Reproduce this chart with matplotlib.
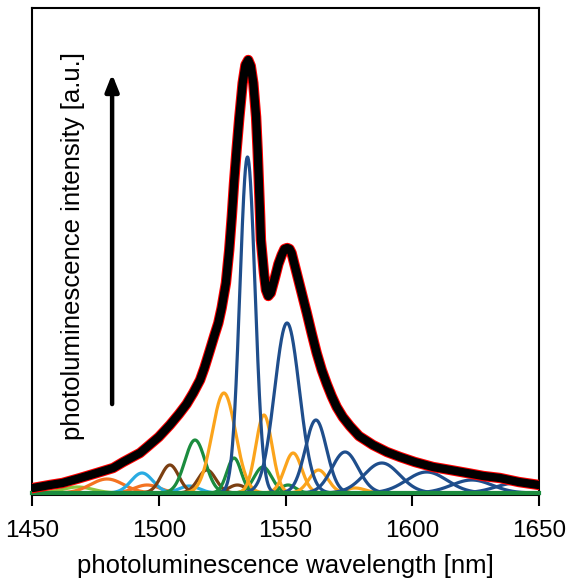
import numpy as np
import matplotlib
matplotlib.use("Agg")
import matplotlib.pyplot as plt

plt.rcParams['font.family'] = ['Liberation Sans', 'DejaVu Sans']

# measured spectrum (wavelength nm, intensity a.u.)
data_wl = [1450.4, 1457, 1462, 1469, 1475.6, 1482, 1486, 1492.6, 1495.4, 1500, 1504.4,
           1508, 1511, 1513.6, 1516.3, 1518, 1520.2, 1522, 1523.5, 1524.8, 1526.5,
           1527.8, 1528.8, 1529.7, 1530.7, 1531.8, 1533.1, 1534.2, 1535.3, 1536.3,
           1537.3, 1538.4, 1539.0, 1539.5, 1540.0, 1540.3, 1541.5, 1542.3, 1543.2,
           1544.2, 1545.9, 1547.2, 1548.5, 1549.6, 1550.7, 1551.6, 1552.4, 1554.4,
           1556.4, 1558.4, 1560.3, 1562.3, 1564.3, 1566.3, 1568.2, 1570.2, 1572.6,
           1575.4, 1579, 1584.5, 1590, 1595.2, 1601, 1608.2, 1615, 1621.6, 1628,
           1634.6, 1642, 1650]
data_int = [5, 8, 10, 15, 20, 25, 31, 40, 46, 56, 68,
            79, 89, 100, 113, 125, 143, 158, 170, 185, 210,
            243, 276, 310, 343, 376, 410, 428, 433, 427,
            410, 376, 343, 310, 276, 253, 220, 203, 197,
            200, 216, 229, 238, 244, 245, 244, 240, 220,
            200, 180, 160, 140, 123, 109, 97, 86, 76,
            67, 57, 48, 41, 36, 31, 26, 23, 20, 17,
            15, 11, 8]

# fitted gaussian components: centre (nm), height, sigma (nm)
blue_c = [1535.0, 1550.6, 1562.0, 1573.5, 1588.0, 1605.7, 1623.5, 1641.0]
blue_h = [336, 170, 73, 41, 30, 21, 13, 10]
blue_s = [3.0, 4.9, 4.2, 5.2, 7.0, 8.0, 8.0, 8.0]

orange_c = [1525.7, 1541.5, 1553.0, 1563.0, 1577.5]
orange_h = [100, 78, 40, 23, 5]
orange_s = [4.6, 3.2, 3.4, 3.7, 4.0]

green_c = [1514.3, 1529.7, 1541.1, 1551.0]
green_h = [53, 35, 26, 8]
green_s = [4.0, 2.8, 3.5, 3.0]

brown_c = [1504.4, 1519.0, 1531.0]
brown_h = [28, 23, 8]
brown_s = [3.5, 3.5, 3.5]

lblue_c = [1493.4, 1512.0]
lblue_h = [20, 7]
lblue_s = [4.3, 4.0]

ored_c = [1479.6, 1495.4]
ored_h = [14, 8]
ored_s = [6.5, 5.0]

lgreen_c = [1468.0]
lgreen_h = [6]
lgreen_s = [6.0]

xticks = [1450, 1500, 1550, 1600, 1650]

fig = plt.figure(figsize=(5.68, 5.87), dpi=100)
ax = fig.add_axes([32/568, 1-495/587, 507/568, 487/587])

wl = np.linspace(1450, 1650, 2001)
groups = [
    (lgreen_c, lgreen_h, lgreen_s, '#8DC63F'),
    (ored_c, ored_h, ored_s, '#F47321'),
    (lblue_c, lblue_h, lblue_s, '#29ABE2'),
    (brown_c, brown_h, brown_s, '#7B3F12'),
    (green_c, green_h, green_s, '#1B8C3E'),
    (orange_c, orange_h, orange_s, '#FBA41C'),
    (blue_c, blue_h, blue_s, '#1F4E8C'),
]
for cs, hs, ss, col in groups:
    for c, h, s in zip(cs, hs, ss):
        ax.plot(wl, h*np.exp(-0.5*((wl-c)/s)**2), color=col, lw=2.3, solid_capstyle='round')

ax.axhline(0, color='#1B8C3E', lw=3, clip_on=False, zorder=3)

ax.plot(data_wl, data_int, color='#FF0000', lw=7.5, solid_joinstyle='round', zorder=4)
ax.plot(data_wl, data_int, color='black', lw=6, solid_joinstyle='round',
        solid_capstyle='round', zorder=5)

ax.set_xlim(1450, 1650)
ax.set_ylim(-2, 485)
ax.set_xticks(xticks)
ax.set_xticklabels([str(t) for t in xticks])
ax.set_yticks([])
ax.tick_params(axis='x', direction='out', length=8, width=1.5, labelsize=17.5, pad=10)
for sp in ax.spines.values():
    sp.set_linewidth(1.5)
ax.set_xlabel('photoluminescence wavelength [nm]', fontsize=18.5, labelpad=9)

ax.text(0.081, 0.511, 'photoluminescence intensity [a.u.]', transform=ax.transAxes,
        rotation=90, ha='center', va='center', fontsize=18.5)
ax.annotate('', xy=(0.158, 0.87), xytext=(0.158, 0.181), xycoords='axes fraction',
            arrowprops=dict(arrowstyle='-|>,head_length=1.0,head_width=0.4', lw=3.2, color='black'))

fig.savefig('out.png', dpi=100)
